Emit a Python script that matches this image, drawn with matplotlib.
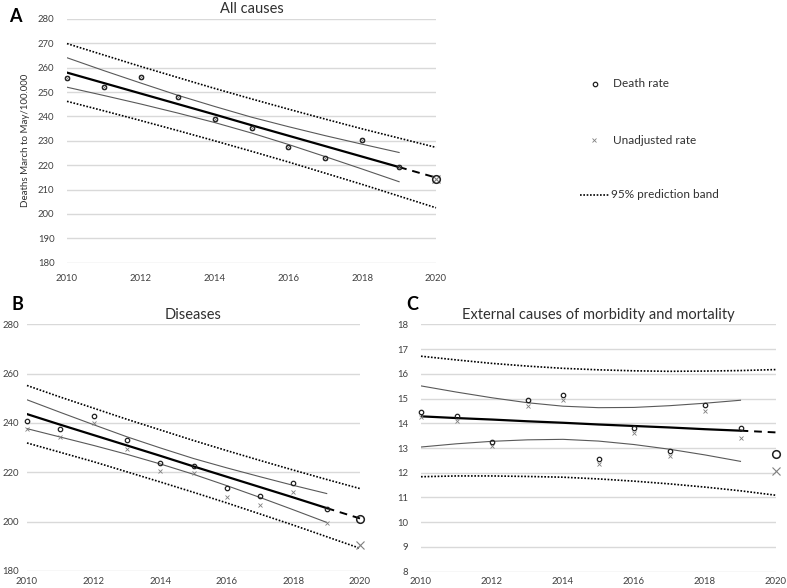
import matplotlib
matplotlib.use("Agg")
import matplotlib.pyplot as plt
from matplotlib.lines import Line2D

plt.rcParams['font.family'] = ['Lato', 'DejaVu Sans']

# data
years = list(range(2010, 2021))
fit_years = years[:10]

# A - all causes
death_a = [255.6, 252.0, 256.2, 248.0, 239.1, 235.4, 227.3, 223.1, 230.2, 219.1, 214.3]
unadj_a = [255.6, 252.0, 256.2, 248.0, 239.1, 235.4, 227.3, 223.1, 230.2, 219.1, 214.3]
fit_a = [258.0, 253.7, 249.4, 245.1, 240.8, 236.4, 232.1, 227.8, 223.5, 219.2, 214.9]
ci_hi_a = [264.1, 258.8, 253.7, 248.7, 244.1, 239.7, 235.8, 232.1, 228.6, 225.2]
ci_lo_a = [252.0, 248.6, 245.1, 241.4, 237.5, 233.2, 228.5, 223.5, 218.4, 213.2]
pi_hi_a = [269.9, 265.2, 260.5, 256.0, 251.5, 247.2, 243.0, 238.9, 234.9, 231.1, 227.3]
pi_lo_a = [246.2, 242.3, 238.3, 234.2, 230.0, 225.7, 221.3, 216.7, 212.1, 207.3, 202.5]

# B - diseases
death_b = [240.9, 237.6, 242.8, 233.0, 223.8, 222.7, 213.5, 210.3, 215.5, 205.3, 200.9]
unadj_b = [237.6, 234.3, 240.0, 229.3, 220.7, 219.6, 210.1, 206.8, 212.2, 199.6, 190.5]
fit_b = [243.6, 239.3, 235.1, 230.9, 226.7, 222.4, 218.2, 214.0, 209.8, 205.5, 201.3]
ci_hi_b = [249.4, 244.3, 239.3, 234.4, 229.9, 225.6, 221.8, 218.2, 214.7, 211.4]
ci_lo_b = [237.7, 234.3, 230.9, 227.3, 223.4, 219.2, 214.6, 209.8, 204.8, 199.7]
pi_hi_b = [255.2, 250.5, 246.0, 241.5, 237.2, 232.9, 228.8, 224.8, 220.9, 217.1, 213.4]
pi_lo_b = [231.9, 228.1, 224.3, 220.2, 216.1, 211.9, 207.6, 203.1, 198.6, 193.9, 189.2]

# C - external causes
death_c = [14.44, 14.31, 13.26, 14.94, 15.13, 12.54, 13.82, 12.89, 14.73, 13.80, 12.76]
unadj_c = [14.24, 14.09, 13.08, 14.71, 14.93, 12.35, 13.59, 12.68, 14.48, 13.40, 12.07]
fit_c = [14.28, 14.21, 14.15, 14.08, 14.02, 13.95, 13.89, 13.83, 13.76, 13.70, 13.63]
ci_hi_c = [15.51, 15.26, 15.03, 14.83, 14.69, 14.63, 14.64, 14.71, 14.81, 14.93]
ci_lo_c = [13.04, 13.17, 13.27, 13.33, 13.35, 13.28, 13.14, 12.95, 12.72, 12.46]
pi_hi_c = [16.71, 16.56, 16.42, 16.31, 16.22, 16.16, 16.12, 16.10, 16.11, 16.13, 16.17]
pi_lo_c = [11.84, 11.87, 11.87, 11.85, 11.82, 11.75, 11.66, 11.55, 11.42, 11.27, 11.09]

GRID = '#d9d9d9'
CI_COL = '#595959'
X_COL = '#7f7f7f'


def draw_panel(ax, death, unadj, fit, ci_hi, ci_lo, pi_hi, pi_lo, ylim, ystep, title, letter, lx, ly,
               xpad=8, ypad=9):
    ax.set_xlim(2010, 2020)
    ax.set_ylim(*ylim)
    yt = []
    v = ylim[0]
    while v <= ylim[1] + 1e-9:
        yt.append(v)
        v += ystep
    ax.set_yticks(yt)
    ax.set_xticks(range(2010, 2021, 2))
    for y in yt:
        ax.axhline(y, color=GRID, lw=1.0, zorder=0)
    for s in ax.spines.values():
        s.set_visible(False)
    ax.tick_params(length=0, labelsize=6.8, colors='#404040')
    ax.tick_params(axis='y', pad=ypad)
    ax.tick_params(axis='x', pad=xpad)
    ax.set_facecolor('none')

    # prediction band
    ax.plot(years, pi_hi, color='black', lw=1.2, ls=(0, (1, 1)), clip_on=False)
    ax.plot(years, pi_lo, color='black', lw=1.2, ls=(0, (1, 1)), clip_on=False)
    # confidence band
    ax.plot(fit_years, ci_hi, color=CI_COL, lw=0.8)
    ax.plot(fit_years, ci_lo, color=CI_COL, lw=0.8)
    # regression
    ax.plot(fit_years, fit[:10], color='black', lw=1.6)
    ax.plot(years[9:], fit[9:], color='black', lw=1.4, ls=(0, (4, 3)), clip_on=False)

    # points
    ax.plot(fit_years, unadj[:10], ls='none', marker='x', ms=3, mew=0.6, color=X_COL, clip_on=False)
    ax.plot(fit_years, death[:10], ls='none', marker='o', ms=3.2, mew=0.9, mfc='none', mec='#202020', clip_on=False)
    ax.plot(years[10:], unadj[10:], ls='none', marker='x', ms=6, mew=0.8, color=X_COL, clip_on=False)
    ax.plot(years[10:], death[10:], ls='none', marker='o', ms=5.5, mew=1.1, mfc='none', mec='#202020', clip_on=False)

    ax.set_title(title, fontsize=10.5, color='#303030', pad=4)
    ax.figure.text(lx, ly, letter, fontsize=13, fontweight='bold', ha='center', va='center')


fig = plt.figure(figsize=(7.87, 5.88), dpi=100)
W, H = 787.0, 588.0


def box(l, t, r, b):
    return [l / W, 1 - b / H, (r - l) / W, (b - t) / H]


ax_a = fig.add_axes(box(67, 19, 436, 262.6))
draw_panel(ax_a, death_a, unadj_a, fit_a, ci_hi_a, ci_lo_a, pi_hi_a, pi_lo_a,
           (180, 280), 10, 'All causes', 'A', 15 / W, 1 - 17 / H)
ax_a.set_ylabel('Deaths March to May/100.000', fontsize=7, color='#303030', labelpad=6)

ax_b = fig.add_axes(box(27, 324.3, 360, 571))
draw_panel(ax_b, death_b, unadj_b, fit_b, ci_hi_b, ci_lo_b, pi_hi_b, pi_lo_b,
           (180, 280), 20, 'Diseases', 'B', 17 / W, 1 - 305 / H, xpad=4, ypad=6)

ax_c = fig.add_axes(box(421, 324.3, 776, 571.7))
draw_panel(ax_c, death_c, unadj_c, fit_c, ci_hi_c, ci_lo_c, pi_hi_c, pi_lo_c,
           (8, 18), 1, 'External causes of morbidity and mortality', 'C', 412 / W, 1 - 304 / H,
           xpad=4, ypad=9)

# legend
fig.add_artist(Line2D([595 / W], [1 - 84 / H], ls='none', marker='o', ms=3.2, mew=0.9,
                      mfc='none', mec='#202020'))
fig.text(613 / W, 1 - 84 / H, 'Death rate', fontsize=8.5, va='center', color='#303030')
fig.add_artist(Line2D([594 / W], [1 - 140 / H], ls='none', marker='x', ms=3, mew=0.6, color=X_COL))
fig.text(613 / W, 1 - 140 / H, 'Unadjusted rate', fontsize=8.5, va='center', color='#303030')
fig.add_artist(Line2D([580 / W, 610 / W], [1 - 195 / H, 1 - 195 / H], color='black', lw=1.2,
                      ls=(0, (1, 1))))
fig.text(611 / W, 1 - 195 / H, '95% prediction band', fontsize=8.5, va='center', color='#303030')

fig.savefig('out.png', dpi=100)
